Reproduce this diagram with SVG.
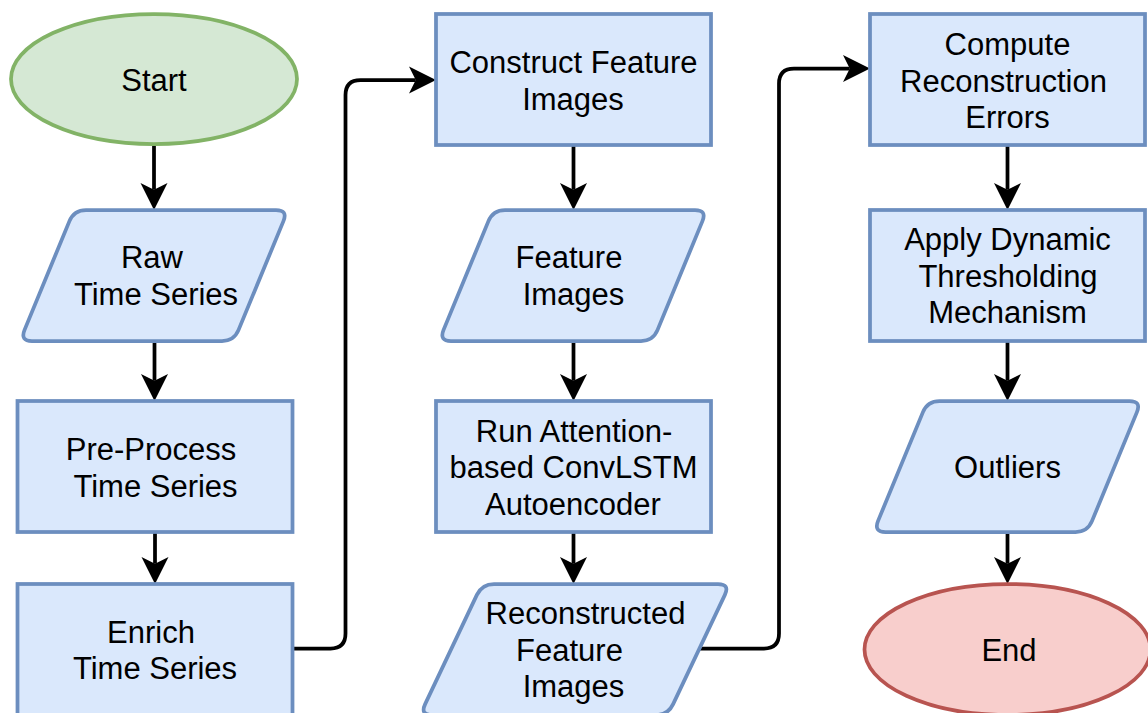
<svg xmlns="http://www.w3.org/2000/svg" width="1148" height="713" viewBox="0 0 1148 713">
  <style>
    .proc { fill: #dae8fc; stroke: #6c8ebf; stroke-width: 3.75; }
    .io { fill: #dae8fc; stroke: #6c8ebf; stroke-width: 3.75; stroke-linejoin: round; }
    .start { fill: #d5e8d4; stroke: #82b366; stroke-width: 3.75; }
    .end { fill: #f8cecc; stroke: #b85450; stroke-width: 3.75; }
    .lbl { font-family: "Liberation Sans", Arial, Helvetica, sans-serif; font-size: 31px; fill: #000; text-anchor: middle; }
    .edge { fill: none; stroke: #000; stroke-width: 3.75; stroke-linejoin: round; marker-end: url(#arrow); }
  </style>
  <defs>
    <!-- classic arrowhead: back corners at x=0, notch at 6.75, tip at 27 -->
    <marker id="arrow" markerUnits="userSpaceOnUse" markerWidth="28" markerHeight="28" viewBox="0 -14 28 28" refX="6.75" refY="0" orient="auto">
      <path d="M0,-13.5 L27,0 L0,13.5 L6.75,0 Z" fill="#000"/>
    </marker>
    <!-- rounded parallelogram for data nodes (268 x 131) -->
    <path id="para" d="M4.57,119.91 L49.43,11.09 Q54,0 66,0 L256,0 Q268,0 263.43,11.09 L218.57,119.91 Q214,131 202,131 L12,131 Q0,131 4.57,119.91 Z"/>
  </defs>

  <!-- connectors -->
  <g id="connectors">
    <path class="edge" d="M154,144 V189.75"/>
    <path class="edge" d="M154.5,341 V380.75"/>
    <path class="edge" d="M155,532 V563.75"/>
    <path class="edge" d="M292.5,648.5 H330.5 Q345.5,648.5 345.5,633.5 V95 Q345.5,80 360.5,80 H415.75"/>
    <path class="edge" d="M573.5,145 V189.75"/>
    <path class="edge" d="M573.5,341 V380.75"/>
    <path class="edge" d="M573.5,532 V563.75"/>
    <path class="edge" d="M699.5,648.5 H764 Q779,648.5 779,633.5 V83.5 Q779,68.5 794,68.5 H849.75"/>
    <path class="edge" d="M1007.5,145 V189.75"/>
    <path class="edge" d="M1007.5,341 V380.75"/>
    <path class="edge" d="M1007.5,532 V563.75"/>
  </g>

  <!-- column 1 -->
  <g id="start">
    <ellipse class="start" cx="154" cy="79" rx="143" ry="65"/>
    <text class="lbl" x="154" y="91">Start</text>
  </g>
  <g id="raw-time-series">
    <use href="#para" class="io" transform="translate(20,210)"/>
    <text class="lbl" x="152" y="268">Raw</text>
    <text class="lbl" x="156" y="305">Time Series</text>
  </g>
  <g id="pre-process">
    <rect class="proc" x="17.5" y="401" width="275" height="131"/>
    <text class="lbl" x="151" y="460">Pre-Process</text>
    <text class="lbl" x="155.5" y="496.5">Time Series</text>
  </g>
  <g id="enrich">
    <rect class="proc" x="17.5" y="584" width="275" height="131"/>
    <text class="lbl" x="151" y="643">Enrich</text>
    <text class="lbl" x="155" y="679">Time Series</text>
  </g>

  <!-- column 2 -->
  <g id="construct-feature-images">
    <rect class="proc" x="436" y="14" width="275" height="131"/>
    <text class="lbl" x="573.5" y="73">Construct Feature</text>
    <text class="lbl" x="573" y="109.5">Images</text>
  </g>
  <g id="feature-images">
    <use href="#para" class="io" transform="translate(439,210)"/>
    <text class="lbl" x="569" y="268">Feature</text>
    <text class="lbl" x="573.5" y="304.5">Images</text>
  </g>
  <g id="run-autoencoder">
    <rect class="proc" x="436" y="401" width="275" height="131"/>
    <text class="lbl" x="574" y="441.5">Run Attention-</text>
    <text class="lbl" x="573.5" y="478">based ConvLSTM</text>
    <text class="lbl" x="573" y="514.5">Autoencoder</text>
  </g>
  <g id="reconstructed-feature-images">
    <path class="io" transform="translate(420,584)" d="M5.13,120.15 L56.87,10.85 Q62,0 74,0 L298,0 Q310,0 304.87,10.85 L253.13,120.15 Q248,131 236,131 L12,131 Q0,131 5.13,120.15 Z"/>
    <text class="lbl" x="585.5" y="624">Reconstructed</text>
    <text class="lbl" x="569.5" y="660.5">Feature</text>
    <text class="lbl" x="573.5" y="697">Images</text>
  </g>

  <!-- column 3 -->
  <g id="compute-errors">
    <rect class="proc" x="870" y="14" width="275" height="131"/>
    <text class="lbl" x="1007.5" y="55">Compute</text>
    <text class="lbl" x="1003.5" y="91.5">Reconstruction</text>
    <text class="lbl" x="1007.5" y="128">Errors</text>
  </g>
  <g id="dynamic-thresholding">
    <rect class="proc" x="870" y="210" width="275" height="131"/>
    <text class="lbl" x="1007.5" y="250">Apply Dynamic</text>
    <text class="lbl" x="1008" y="286.5">Thresholding</text>
    <text class="lbl" x="1007.5" y="323">Mechanism</text>
  </g>
  <g id="outliers">
    <use href="#para" class="io" transform="translate(873.5,401)"/>
    <text class="lbl" x="1007.5" y="477.5">Outliers</text>
  </g>
  <g id="end">
    <ellipse class="end" cx="1007.5" cy="649.5" rx="143" ry="65.5"/>
    <text class="lbl" x="1009" y="660.5">End</text>
  </g>
</svg>
